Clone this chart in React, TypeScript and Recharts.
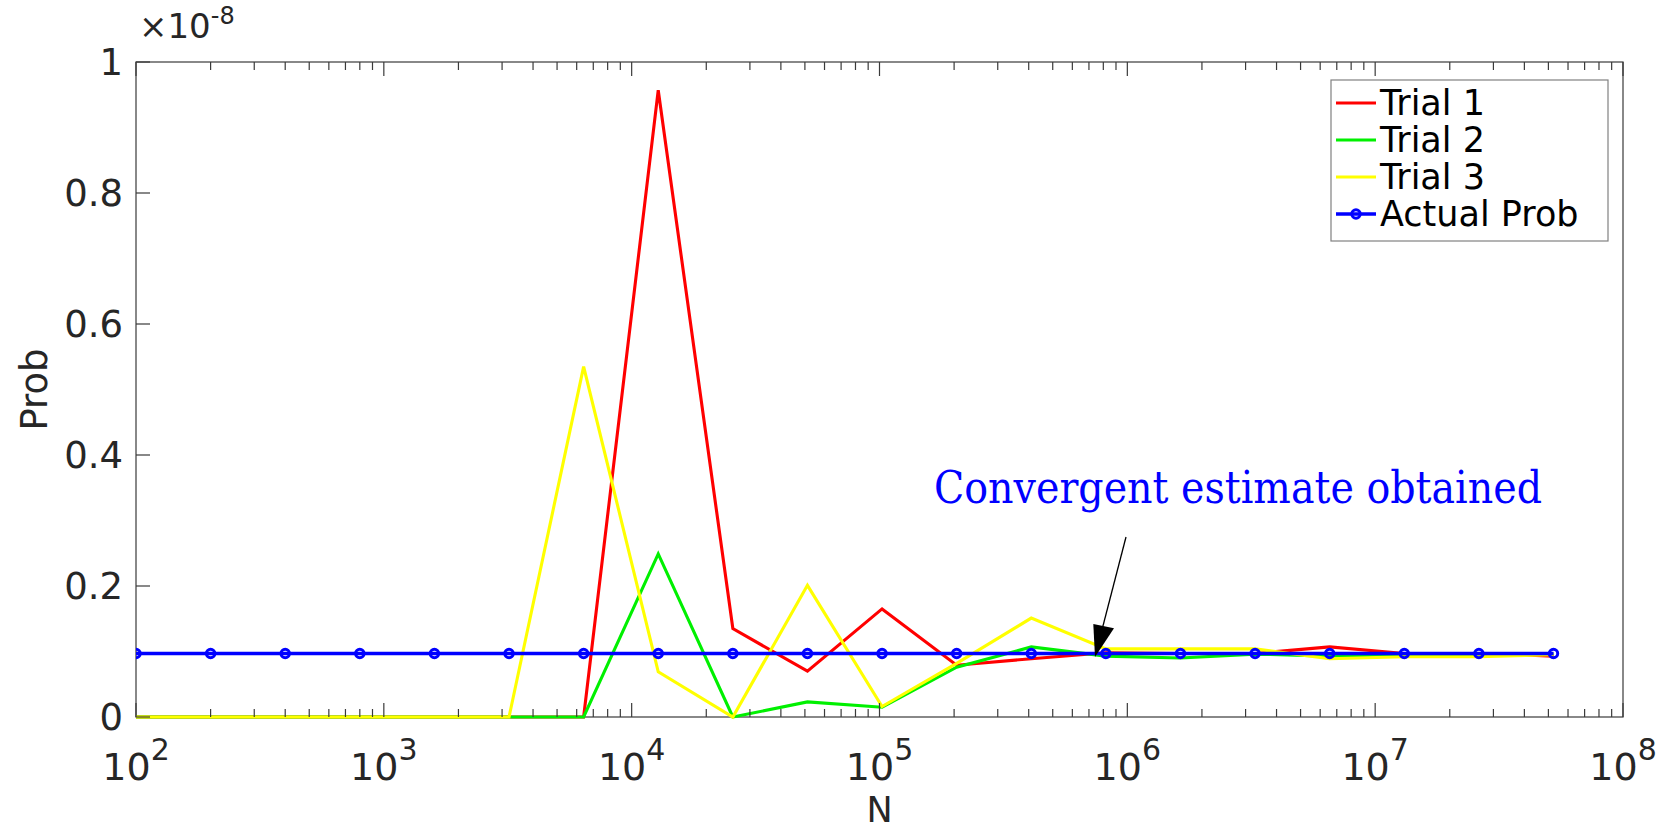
import React from "react";
import { LineChart, Line, XAxis, YAxis } from "recharts";

// N doubles from 1e2 up to ~5.2e7
const N_VALUES = [
  100, 200, 400, 800, 1600, 3200, 6400, 12800, 25600, 51200, 102400, 204800,
  409600, 819200, 1638400, 3276800, 6553600, 13107200, 26214400, 52428800,
];

// probabilities, in units of 1e-8
const TRIAL_1 = [
  0, 0, 0, 0, 0, 0, 0, 0.957, 0.135, 0.07, 0.165, 0.079, 0.089, 0.098, 0.097,
  0.097, 0.107, 0.097, 0.097, 0.093,
];
const TRIAL_2 = [
  0, 0, 0, 0, 0, 0, 0, 0.249, 0, 0.023, 0.015, 0.076, 0.107, 0.093, 0.09,
  0.096, 0.093, 0.095, 0.095, 0.096,
];
const TRIAL_3 = [
  0, 0, 0, 0, 0, 0, 0.535, 0.069, 0, 0.201, 0.016, 0.082, 0.151, 0.104, 0.104,
  0.104, 0.089, 0.092, 0.092, 0.095,
];
const ACTUAL_PROB = [
  0.097, 0.097, 0.097, 0.097, 0.097, 0.097, 0.097, 0.097, 0.097, 0.097, 0.097,
  0.097, 0.097, 0.097, 0.097, 0.097, 0.097, 0.097, 0.097, 0.097,
];

const X_DECADES = [1e2, 1e3, 1e4, 1e5, 1e6, 1e7, 1e8];
const Y_TICKS = [0, 0.2, 0.4, 0.6, 0.8, 1];
const Y_TICK_LABELS = ["0", "0.2", "0.4", "0.6", "0.8", "1"];

const SERIES = [
  { key: "t1", name: "Trial 1", color: "#ff0000" },
  { key: "t2", name: "Trial 2", color: "#00f000" },
  { key: "t3", name: "Trial 3", color: "#ffff00" },
  { key: "actual", name: "Actual Prob", color: "#0000ff" },
];

const data = N_VALUES.map((n, i) => ({
  n,
  t1: TRIAL_1[i],
  t2: TRIAL_2[i],
  t3: TRIAL_3[i],
  actual: ACTUAL_PROB[i],
}));

// decades + 2..9 minor ticks
const xTicks: number[] = [];
X_DECADES.forEach((d, i) => {
  xTicks.push(d);
  if (i < X_DECADES.length - 1) {
    for (let m = 2; m <= 9; m++) xTicks.push(d * m);
  }
});

const W = 1671;
const H = 831;
const LEFT = 136;
const RIGHT = 1623;
const TOP = 62;
const BOTTOM = 717;
const AXIS = "#3a3a3a";
const TXT = "#262626";
const FONT = "DejaVu Sans, sans-serif";
const TRIAL_W = 3.1;
const ACTUAL_W = 3.4;

const isMajor = (v: number) =>
  Math.abs(Math.log10(v) - Math.round(Math.log10(v))) < 1e-9;

const BottomTick = (props: any) => {
  const { x, payload } = props;
  const v = payload.value;
  const major = isMajor(v);
  return (
    <g>
      <line
        x1={x}
        x2={x}
        y1={BOTTOM}
        y2={BOTTOM - (major ? 14 : 8)}
        stroke={AXIS}
        strokeWidth={1.2}
      />
      {major && (
        <text
          x={x}
          y={780}
          textAnchor="middle"
          fill={TXT}
          fontSize={38}
          fontFamily={FONT}
        >
          <tspan>10</tspan>
          <tspan dy={-20} fontSize={30}>
            {Math.round(Math.log10(v))}
          </tspan>
        </text>
      )}
    </g>
  );
};

const TopTick = (props: any) => {
  const { x, payload } = props;
  const major = isMajor(payload.value);
  return (
    <line
      x1={x}
      x2={x}
      y1={TOP}
      y2={TOP + (major ? 14 : 8)}
      stroke={AXIS}
      strokeWidth={1.2}
    />
  );
};

const LeftTick = (props: any) => {
  const { y, index } = props;
  return (
    <g>
      <line x1={LEFT} x2={LEFT + 14} y1={y} y2={y} stroke={AXIS} strokeWidth={1.2} />
      <text
        x={123}
        y={y}
        dy="0.36em"
        textAnchor="end"
        fill={TXT}
        fontSize={37}
        fontFamily={FONT}
      >
        {Y_TICK_LABELS[index]}
      </text>
    </g>
  );
};

const RightTick = (props: any) => {
  const { y } = props;
  return (
    <line x1={RIGHT} x2={RIGHT - 14} y1={y} y2={y} stroke={AXIS} strokeWidth={1.2} />
  );
};

export default function App() {
  const rowY = (i: number) => 103 + i * 37;
  return (
    <div
      style={{
        position: "absolute",
        left: 0,
        top: 0,
        width: W,
        height: H,
        background: "#fff",
        fontFamily: FONT,
      }}
    >
      {/* axes box, under the series */}
      <svg width={W} height={H} style={{ position: "absolute", left: 0, top: 0 }}>
        <rect
          x={LEFT}
          y={TOP}
          width={RIGHT - LEFT}
          height={BOTTOM - TOP}
          fill="none"
          stroke={AXIS}
          strokeWidth={1.2}
        />
      </svg>

      <div style={{ position: "absolute", left: 0, top: 0 }}>
        <LineChart
          width={W}
          height={H}
          data={data}
          margin={{ top: 0, right: 0, bottom: 0, left: 0 }}
        >
          <XAxis
            xAxisId="bottom"
            dataKey="n"
            type="number"
            scale="log"
            domain={[100, 1e8]}
            allowDataOverflow
            ticks={xTicks}
            interval={0}
            height={H - BOTTOM}
            tickSize={0}
            tickMargin={0}
            tickLine={false}
            axisLine={false}
            tick={(p: any) => <BottomTick {...p} />}
          />
          <XAxis
            xAxisId="top"
            orientation="top"
            dataKey="n"
            type="number"
            scale="log"
            domain={[100, 1e8]}
            allowDataOverflow
            ticks={xTicks}
            interval={0}
            height={TOP}
            tickSize={0}
            tickMargin={0}
            tickLine={false}
            axisLine={false}
            tick={(p: any) => <TopTick {...p} />}
          />
          <YAxis
            yAxisId="left"
            type="number"
            domain={[0, 1]}
            ticks={Y_TICKS}
            interval={0}
            width={LEFT}
            tickSize={0}
            tickMargin={0}
            tickLine={false}
            axisLine={false}
            tick={(p: any) => <LeftTick {...p} />}
          />
          <YAxis
            yAxisId="right"
            orientation="right"
            type="number"
            domain={[0, 1]}
            ticks={Y_TICKS}
            interval={0}
            width={W - RIGHT}
            tickSize={0}
            tickMargin={0}
            tickLine={false}
            axisLine={false}
            tick={(p: any) => <RightTick {...p} />}
          />
          {SERIES.map((s) => (
            <Line
              key={s.key}
              xAxisId="bottom"
              yAxisId="left"
              type="linear"
              dataKey={s.key}
              name={s.name}
              stroke={s.color}
              strokeWidth={s.key === "actual" ? ACTUAL_W : TRIAL_W}
              dot={
                s.key === "actual"
                  ? { r: 4.2, stroke: s.color, strokeWidth: 3, fill: "none" }
                  : false
              }
              activeDot={false}
              isAnimationActive={false}
            />
          ))}
        </LineChart>
      </div>

      {/* labels, legend and annotation */}
      <svg
        width={W}
        height={H}
        style={{ position: "absolute", left: 0, top: 0, pointerEvents: "none" }}
      >
        <text x={139} y={38} fill={TXT} fontSize={34} fontFamily={FONT}>
          <tspan>×10</tspan>
          <tspan dy={-14} fontSize={24}>
            -8
          </tspan>
        </text>
        <text
          x={47}
          y={(TOP + BOTTOM) / 2}
          transform={`rotate(-90, 47, ${(TOP + BOTTOM) / 2})`}
          textAnchor="middle"
          fill={TXT}
          fontSize={37}
          fontFamily={FONT}
        >
          Prob
        </text>
        <text
          x={(LEFT + RIGHT) / 2}
          y={822}
          textAnchor="middle"
          fill={TXT}
          fontSize={35}
          fontFamily={FONT}
        >
          N
        </text>

        {/* legend */}
        <rect x={1331} y={80} width={277} height={161} fill="#fff" stroke="#808080" strokeWidth={1.2} />
        {SERIES.map((s, i) => (
          <g key={s.key}>
            <line
              x1={1336}
              x2={1376}
              y1={rowY(i)}
              y2={rowY(i)}
              stroke={s.color}
              strokeWidth={s.key === "actual" ? ACTUAL_W : TRIAL_W}
            />
            {s.key === "actual" && (
              <circle cx={1356} cy={rowY(i)} r={4.2} stroke={s.color} strokeWidth={3} fill="none" />
            )}
            <text x={1380} y={rowY(i) + 12} fill="#000" fontSize={35} fontFamily={FONT}>
              {s.name}
            </text>
          </g>
        ))}

        {/* annotation */}
        <text
          x={934}
          y={503}
          fill="#0000ff"
          fontSize={45}
          fontFamily="DejaVu Serif, serif"
          textLength={608}
          lengthAdjust="spacingAndGlyphs"
        >
          Convergent estimate obtained
        </text>
        <line x1={1126} y1={537} x2={1102.7} y2={627} stroke="#000" strokeWidth={1.3} />
        <polygon points="1095,657 1093.3,624 1114,628.3" fill="#000" />
      </svg>
    </div>
  );
}
